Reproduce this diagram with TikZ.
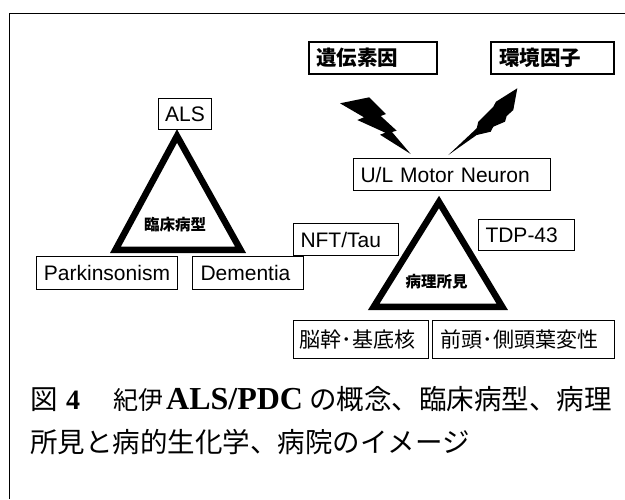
\documentclass[tikz,border=0pt]{standalone}
\usepackage{fontspec}
\setmainfont{Liberation Serif}
\newfontfamily\sansf{Liberation Sans}
\newfontfamily\cjk{Noto Sans CJK JP}
\begin{document}
\begin{tikzpicture}[x=1pt,y=-1pt,
  box/.style={draw, inner ysep=0pt, anchor=north west},
  thinb/.style={line width=1pt},
  thickb/.style={line width=2.2pt},
  lat/.style={font=\sansf\fontsize{21}{21}\selectfont, text height=15pt, text depth=0pt},
  jpb/.style={font=\cjk\bfseries\fontsize{20.5}{21}\selectfont, text height=15.6pt, text depth=0pt},
  jpr/.style={font=\cjk\fontsize{21}{21}\selectfont, text height=16pt, text depth=0pt},
  tri/.style={line width=6.5pt, line join=miter},
  trilabel/.style={font=\cjk\bfseries\fontsize{15.5}{16}\selectfont, inner sep=0pt},
  bolt/.style={fill=black, draw=none},
  capnode/.style={anchor=base west, inner sep=0pt},
  capj/.style={capnode, font=\cjk\fontsize{27.5}{28}\selectfont},
]
\useasboundingbox (0,0) rectangle (625,499);
% frame
\draw[line width=1.5pt] (9.5,499) -- (9.5,13.5) -- (625,13.5);

% left triangle
\coordinate (t1a) at (177,136);
\coordinate (t1b) at (115.5,249.75);
\coordinate (t1c) at (240.5,249.75);
\draw[tri] (t1a) -- (t1b) -- (t1c) -- cycle;
\node[trilabel] (clin) at (175,225) {臨床病型};

% right triangle
\coordinate (t2a) at (439,202);
\coordinate (t2b) at (373.8,306.75);
\coordinate (t2c) at (502.2,306.75);
\draw[tri] (t2a) -- (t2b) -- (t2c) -- cycle;
\node[trilabel] (path) at (436.5,282) {病理所見};

% boxes
\node[box, thinb, lat, inner xsep=0pt, minimum width=53pt, minimum height=31pt] (als) at (158,98) {ALS};
\node[box, thinb, lat, inner xsep=0pt, minimum width=141pt, minimum height=33pt] (park) at (36,256) {Parkinsonism};
\node[box, thinb, lat, inner xsep=8pt, text width=95pt, align=left, minimum height=33pt] (dem) at (192,256) {Dementia};
\node[box, thickb, jpb, inner xsep=7pt, text width=114pt, align=left, minimum height=32pt] (gen) at (308,41) {遺伝素因};
\node[box, thickb, jpb, inner xsep=8pt, text width=107pt, align=left, minimum height=32pt] (env) at (490,41) {環境因子};
\node[box, thinb, lat, inner xsep=7pt, text width=183pt, align=left, minimum height=32pt] (mn) at (353,158) {U/L Motor Neuron};
\node[box, thinb, lat, inner xsep=7pt, text width=91pt, align=left, minimum height=32pt] (nft) at (293,223) {NFT/Tau};
\node[box, thinb, lat, inner xsep=7pt, text width=82pt, align=left, minimum height=31pt] (tdp) at (478,219) {TDP-43};
\node[box, thinb, jpr, inner xsep=6pt, text width=123pt, align=left, minimum height=38pt] (bs) at (293,320) {脳幹･基底核};
\node[box, thinb, jpr, inner xsep=8pt, text width=166pt, align=left, minimum height=38pt] (ft) at (432,320) {前頭･側頭葉変性};

% lightning bolts
\fill[bolt] (340,103.3) -- (369.3,97.3) -- (386,114) -- (380.7,116) -- (396.7,130.7) -- (392,132) -- (410.7,154)
  -- (380,134.7) -- (385.3,132.7) -- (357.3,120) -- (364,117.3) -- cycle;
\fill[bolt] (448.3,155) -- (476.7,128.3) -- (478.3,121.7) -- (493.3,106.7) -- (496,101.7) -- (517.3,88.3)
  -- (513.3,110) -- (506.7,116) -- (505,121.7) -- (493.3,126.7) -- (490.7,131.7) -- (476.7,135) -- cycle;

% caption
\node[capj] (c1) at (30,409) {図};
\node[capnode, font=\bfseries\fontsize{28}{28}\selectfont] (c2) at (66,409) {4};
\node[capnode, font=\cjk\fontsize{25}{25}\selectfont] (c3) at (113,409) {紀伊};
\node[capnode, font=\bfseries\fontsize{32}{32}\selectfont] (c4) at (166,409) {ALS/PDC};
\node[capj] (c5) at (309,409) {の概念、臨床病型、病理};
\node[capj] (c6) at (30,452) {所見と病的生化学、病院のイメージ};
\end{tikzpicture}
\end{document}
